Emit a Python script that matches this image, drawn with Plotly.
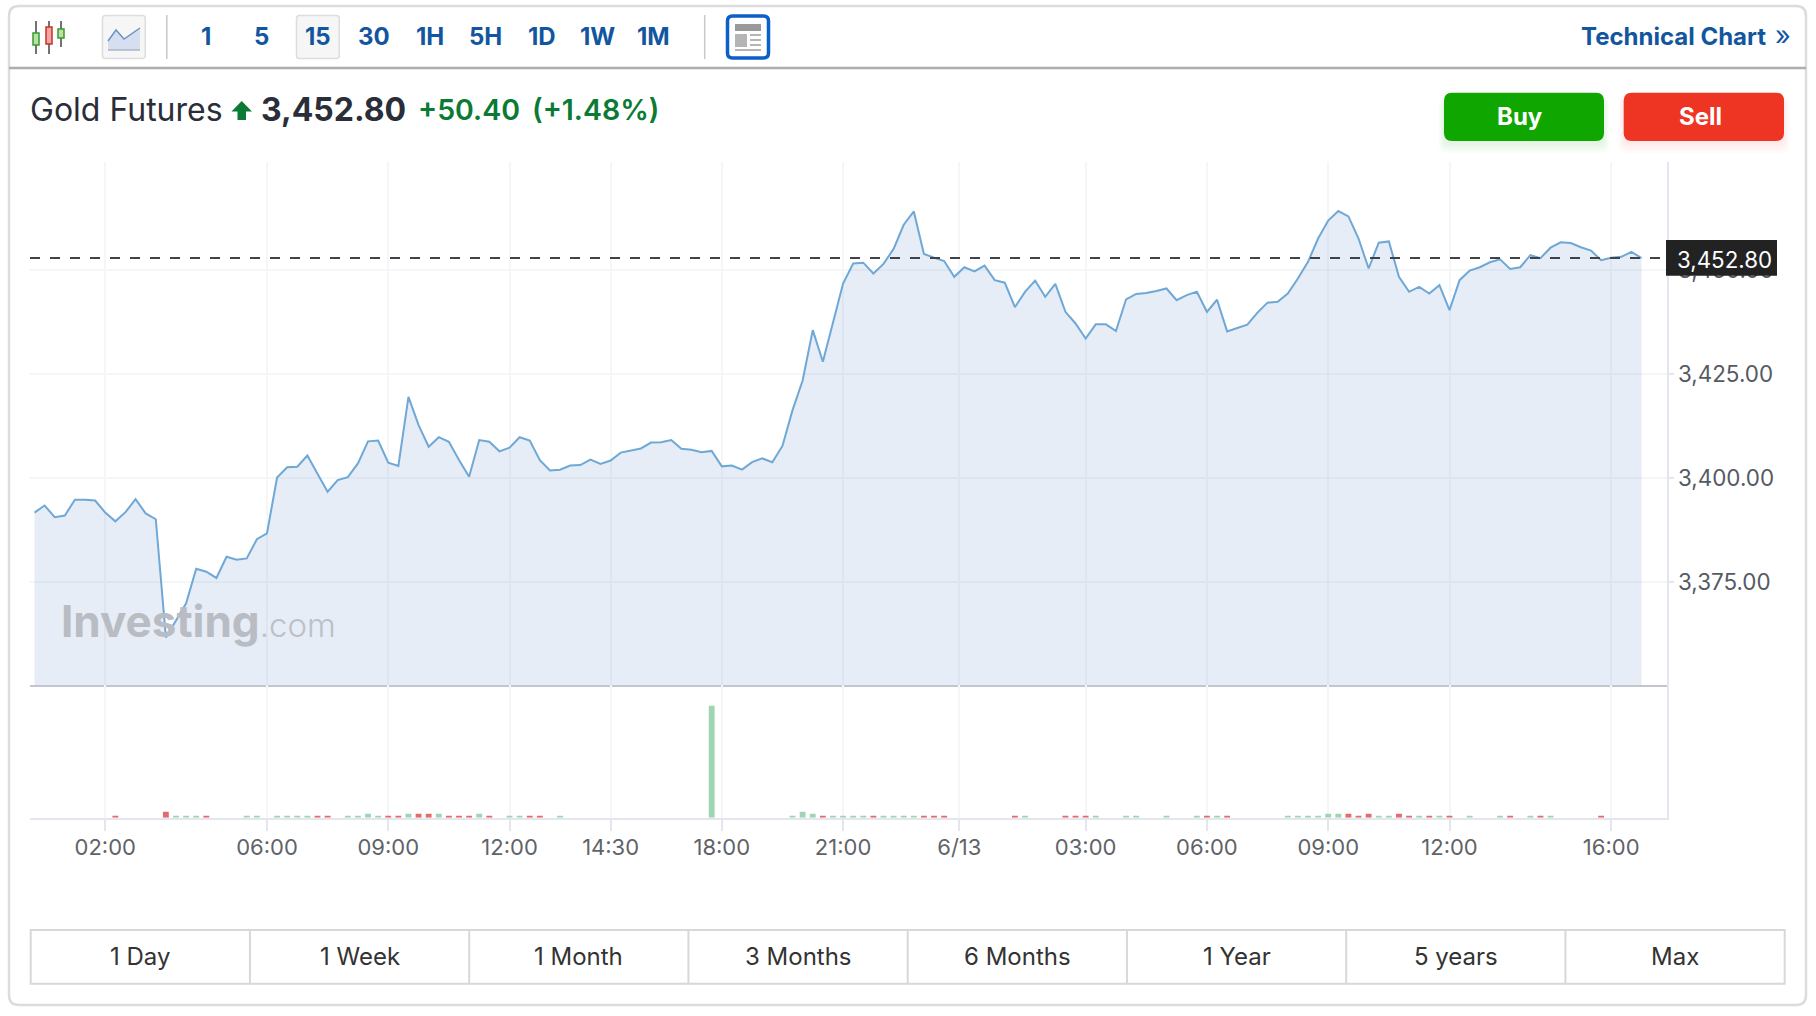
import plotly.graph_objects as go

W, H = 1816, 1016
FONT = "Inter"

price_close = [
    3391.7, 3393.4, 3390.6, 3391.0, 3394.8, 3394.8, 3394.6, 3391.7, 3389.6, 3391.8,
    3394.9, 3391.5, 3390.1, 3361.7, 3365.8, 3369.9, 3378.2, 3377.5, 3376.0, 3381.1,
    3380.4, 3380.7, 3385.3, 3386.7, 3400.1, 3402.6, 3402.7, 3405.4, 3401.0, 3396.7,
    3399.5, 3400.2, 3403.5, 3408.8, 3409.0, 3403.7, 3402.9, 3419.5, 3412.7, 3407.5,
    3409.8, 3408.7, 3404.3, 3400.3, 3409.1, 3408.7, 3406.4, 3407.3, 3409.8, 3409.0,
    3404.3, 3401.8, 3402.0, 3403.0, 3403.1, 3404.4, 3403.4, 3404.2, 3406.1, 3406.6,
    3407.1, 3408.5, 3408.6, 3409.1, 3407.0, 3406.8, 3406.2, 3406.5, 3402.8, 3403.0,
    3402.0, 3403.8, 3404.7, 3403.8, 3407.7, 3416.3, 3423.4, 3435.5, 3427.9, 3437.3,
    3446.7, 3451.5, 3451.7, 3449.1, 3451.4, 3455.0, 3460.8, 3464.0, 3453.8, 3452.9,
    3452.1, 3448.3, 3450.6, 3449.6, 3451.0, 3447.5, 3446.9, 3441.0, 3444.7, 3447.4,
    3443.5, 3446.6, 3439.9, 3437.1, 3433.5, 3436.9, 3436.9, 3435.3, 3442.9, 3444.2,
    3444.4, 3444.9, 3445.5, 3442.7, 3443.9, 3444.7, 3439.9, 3442.8, 3435.2, 3436.0,
    3436.8, 3439.7, 3442.1, 3442.3, 3444.3, 3447.9, 3451.9, 3457.5, 3461.8, 3464.1,
    3462.8, 3457.5, 3450.3, 3456.5, 3456.8, 3448.3, 3444.7, 3445.9, 3444.3, 3446.3,
    3440.3, 3447.5, 3449.8, 3450.6, 3451.8, 3452.5, 3450.2, 3450.6, 3453.5, 3452.8,
    3455.3, 3456.6, 3456.4, 3455.4, 3454.6, 3452.3, 3452.9, 3453.1, 3454.3, 3452.8,
]
bar_index = list(range(len(price_close)))

vol_up_index = [14, 15, 16, 21, 22, 24, 25, 26, 27, 31, 32, 33, 34, 37, 40, 44, 47, 48, 52,
                67, 75, 76, 77, 79, 80, 81, 82, 84, 85, 86, 87, 98, 105, 108, 109, 112, 115,
                117, 124, 125, 126, 127, 128, 129, 133, 134, 137, 139, 142, 145, 148, 150]
vol_up_value = [2, 2, 2, 2, 2, 2, 2, 2, 2, 2, 2, 4, 2, 4, 4, 4, 2, 2, 2,
                112, 2, 6, 4, 2, 2, 2, 2, 2, 2, 2, 2, 2, 2, 2, 2, 2, 2,
                2, 2, 2, 2, 2, 4, 4, 2, 2, 2, 2, 2, 2, 2, 2]
vol_down_index = [8, 13, 17, 28, 29, 35, 36, 38, 39, 41, 42, 43, 45, 49, 50, 78, 83, 88, 89, 90,
                  97, 102, 103, 104, 116, 118, 130, 131, 132, 135, 136, 138, 140, 146, 149, 155]
vol_down_value = [2, 6, 2, 2, 2, 2, 2, 4, 4, 2, 2, 2, 2, 2, 2, 2, 2, 2, 2, 2,
                  2, 2, 2, 2, 2, 2, 4, 2, 4, 4, 2, 2, 2, 2, 2, 2]

x_tick_index = [7, 23, 35, 47, 57, 68, 80, 91.5, 104, 116, 128, 140, 156]
x_tick_labels = ["02:00", "06:00", "09:00", "12:00", "14:30", "18:00", "21:00", "6/13",
                 "03:00", "06:00", "09:00", "12:00", "16:00"]
y_tick_values = [3375, 3400, 3425, 3450]
current_price = 3452.80

interval_labels = ["1", "5", "15", "30", "1H", "5H", "1D", "1W", "1M"]
range_labels = ["1 Day", "1 Week", "1 Month", "3 Months", "6 Months", "1 Year", "5 years", "Max"]


def px(x):
    return x / W


def py(y):
    return 1 - y / H


shapes = []
annotations = []


def rect(x0, y0, x1, y1, fill="rgba(0,0,0,0)", line=None, lw=0):
    shapes.append(dict(type="rect", xref="paper", yref="paper", x0=px(x0), x1=px(x1),
                       y0=py(y0), y1=py(y1), fillcolor=fill,
                       line=dict(color=line or "rgba(0,0,0,0)", width=lw), layer="above"))


def seg(x0, y0, x1, y1, color, lw=2):
    shapes.append(dict(type="line", xref="paper", yref="paper", x0=px(x0), x1=px(x1),
                       y0=py(y0), y1=py(y1), line=dict(color=color, width=lw), layer="above"))


def poly(points, fill, line=None, lw=0, closed=True):
    d = "M" + " L".join(f"{px(a):.5f},{py(b):.5f}" for a, b in points) + (" Z" if closed else "")
    shapes.append(dict(type="path", xref="paper", yref="paper", path=d, fillcolor=fill,
                       line=dict(color=line or "rgba(0,0,0,0)", width=lw), layer="above"))


def rrect(x0, y0, x1, y1, r, fill="rgba(0,0,0,0)", line=None, lw=0):
    a = lambda x, y: f"{px(x):.5f},{py(y):.5f}"
    d = (f"M{a(x0 + r, y0)} L{a(x1 - r, y0)} Q{a(x1, y0)} {a(x1, y0 + r)} "
         f"L{a(x1, y1 - r)} Q{a(x1, y1)} {a(x1 - r, y1)} L{a(x0 + r, y1)} "
         f"Q{a(x0, y1)} {a(x0, y1 - r)} L{a(x0, y0 + r)} Q{a(x0, y0)} {a(x0 + r, y0)} Z")
    shapes.append(dict(type="path", xref="paper", yref="paper", path=d, fillcolor=fill,
                       line=dict(color=line or "rgba(0,0,0,0)", width=lw), layer="above"))


def text(x, y, s, size, color, anchor="center", weight=400, family=FONT):
    annotations.append(dict(xref="paper", yref="paper", x=px(x), y=py(y), text=s, showarrow=False,
                            xanchor=anchor, yanchor="middle", align=anchor,
                            font=dict(family=family, size=size, color=color, weight=weight),
                            borderpad=0, borderwidth=0))


def glow(x0, y0, x1, y1, rgb):
    for k in (9, 7, 5, 3, 1):
        rrect(x0 - k * 0.6, y0 + 6 - k * 0.3, x1 + k * 0.6, y1 + 3 + k, 8, fill=f"rgba({rgb},0.02)")


# card and header
rrect(9, 6, 1806, 1005, 10, line="#dcdcdc", lw=2.5)
seg(9, 68, 1806, 68, "#adadad", 2.5)

# candle icon
for cx, top, bot, by0, by1, col, fillc in [(36, 21, 54, 33, 45, "#3a9a2a", "#b8e0a8"),
                                           (49, 21, 54, 27, 44, "#c8302a", "#f2a6a0"),
                                           (61, 21, 47, 29, 38, "#3a9a2a", "#b8e0a8")]:
    seg(cx, top, cx, bot, "#444444", 1.5)
    rect(cx - 3, by0, cx + 3, by1, fill=fillc, line=col, lw=1.5)

# toolbar boxes
rrect(102.5, 15.5, 145.3, 58.5, 3, fill="#f6f6f6", line="#dddddd", lw=1.5)
poly([(108, 50), (108, 41), (116, 30), (124, 39), (140, 28), (140, 50)], "#d5dff0")
poly([(108, 41), (116, 30), (124, 39), (140, 28)], "rgba(0,0,0,0)", line="#6d93c4", lw=1.5, closed=False)
seg(108, 50, 140, 50, "#a8b4c8", 1.5)
rrect(296.5, 15.5, 339.3, 58.5, 3, fill="#f6f6f6", line="#dddddd", lw=1.5)
seg(166.8, 15, 166.8, 59, "#c8c8c8", 1.5)
seg(704.7, 15, 704.7, 59, "#c8c8c8", 1.5)

# news icon
rrect(727.5, 16, 768.5, 58, 5, fill="#ffffff", line="#0a5fc8", lw=3.5)
rect(735, 24, 761, 31, fill="#9a9a9a")
rect(735, 34, 747, 47, fill="#b5b5b5")
for yy in (35, 40, 45):
    seg(750, yy, 761, yy, "#b5b5b5", 2)
seg(735, 50, 761, 50, "#b5b5b5", 2)

for lab, cx in zip(interval_labels, [205.6, 261.7, 317.5, 373.5, 429.6, 485, 541.5, 597.6, 653.5]):
    text(cx, 36, lab, 24, "#1256a0", weight=650)

text(1765.5, 36, "Technical Chart", 24, "#1256a0", anchor="right", weight=650)
text(1783, 35, "»", 27, "#1256a0", weight=400)

# title row
text(30, 109.5, "Gold Futures", 32, "#2a2e39", anchor="left")
poly([(241.7, 101), (252, 111.5), (246, 111.5), (246, 120), (237.5, 120), (237.5, 111.5), (231.5, 111.5)], "#0b7a35")
text(260.5, 109.5, "3,452.80", 32, "#2a2e39", anchor="left", weight=700)
text(417.5, 109.5, "+50.40", 28.5, "#0b7a35", anchor="left", weight=600)
text(531.5, 109.5, "(+1.48%)", 28.5, "#0b7a35", anchor="left", weight=600)

# buttons
glow(1444, 92.7, 1604, 141, "15,166,0")
rrect(1444, 92.7, 1604, 141, 8, fill="#0fa600")
text(1520, 116.5, "Buy", 24, "#ffffff", weight=700)
glow(1623.7, 92.7, 1784, 141, "238,53,36")
rrect(1623.7, 92.7, 1784, 141, 8, fill="#ee3524")
text(1700, 116.5, "Sell", 24, "#ffffff", weight=700)

# current price marker
shapes.append(dict(type="line", xref="x", yref="y", x0=-0.445, x1=161.47, y0=current_price, y1=current_price,
                   line=dict(color="#3f4347", width=2, dash="10px 10px"), layer="above"))
rect(1666, 240, 1777, 275.7, fill="#222222")
text(1724, 259.5, f"{current_price:,.2f}", 22.3, "#ffffff")

# range buttons
rect(30.7, 930, 1784.7, 983.7, line="#d8d8d8", lw=2)
cell = (1784.7 - 30.7) / len(range_labels)
for i, lab in enumerate(range_labels):
    if i:
        seg(30.7 + i * cell, 930, 30.7 + i * cell, 983.7, "#d8d8d8", 2)
    text(30.7 + (i + 0.5) * cell, 956.7, lab, 24, "#333333")

# watermark
annotations.append(dict(xref="paper", yref="paper", x=px(59), y=py(620.5), showarrow=False,
                        xanchor="left", yanchor="middle", align="left",
                        text="<b>Investing</b><span style='font-size:33px;font-weight:300;fill:#bcc0c7'>.com</span>",
                        font=dict(family=FONT, size=44, color="#b9bcc2", weight=800)))

GRID = "#f5f6f8"
AXIS = "#e3e6ee"
fig = go.Figure()
fig.add_trace(go.Scatter(x=bar_index, y=price_close, mode="lines", xaxis="x", yaxis="y",
                         line=dict(color="#6fa8d6", width=2), fill="tozeroy",
                         fillcolor="rgba(116,155,205,0.18)"))
fig.add_trace(go.Bar(x=vol_up_index, y=vol_up_value, xaxis="x2", yaxis="y2", width=0.58,
                     marker=dict(color="#9fd5b3", line=dict(width=0))))
fig.add_trace(go.Bar(x=vol_down_index, y=vol_down_value, xaxis="x2", yaxis="y2", width=0.58,
                     marker=dict(color="#e36b6b", line=dict(width=0))))

xdom = [30 / W, 1666.5 / W]
xrange_ = [-0.445, 161.47]
fig.update_layout(
    width=W, height=H, autosize=False, margin=dict(l=0, r=0, t=0, b=0),
    paper_bgcolor="#ffffff", plot_bgcolor="#ffffff", showlegend=False, hovermode=False,
    barmode="overlay", font=dict(family=FONT),
    shapes=shapes, annotations=annotations,
    xaxis=dict(domain=xdom, range=xrange_, anchor="y", showgrid=True, gridcolor=GRID, gridwidth=2,
               tickvals=x_tick_index, ticktext=[""] * len(x_tick_index), ticks="", zeroline=False,
               showline=True, linecolor="#c3c6ce", linewidth=2),
    yaxis=dict(domain=[(H - 685.3) / H, (H - 162) / H], range=[3350.23, 3475.87], side="right", anchor="x",
               tickvals=y_tick_values, tickformat=",.2f", showgrid=True, gridcolor=GRID, gridwidth=2,
               ticks="outside", ticklen=5, tickwidth=2, tickcolor=AXIS, zeroline=False,
               showline=True, linecolor=AXIS, linewidth=2,
               tickfont=dict(family=FONT, size=22.4, color="#555a63")),
    xaxis2=dict(domain=xdom, range=xrange_, anchor="y2", showgrid=True, gridcolor=GRID, gridwidth=2,
                tickvals=x_tick_index, ticktext=x_tick_labels, ticks="outside", ticklen=11, tickwidth=2,
                tickcolor=AXIS, zeroline=False, showline=True, linecolor=AXIS, linewidth=2,
                ticklabelstandoff=-2,
                tickangle=0, tickfont=dict(family=FONT, size=22, color="#5f6368")),
    yaxis2=dict(domain=[(H - 817.7) / H, (H - 685.3) / H], range=[0, 132.4], side="right", anchor="x2",
                showgrid=False, showticklabels=False, ticks="", zeroline=False,
                showline=True, linecolor=AXIS, linewidth=2),
)

fig.write_html("out.html", config=dict(displayModeBar=False, responsive=False),
               post_script="document.body.style.margin='0';document.body.style.overflow='hidden';")
